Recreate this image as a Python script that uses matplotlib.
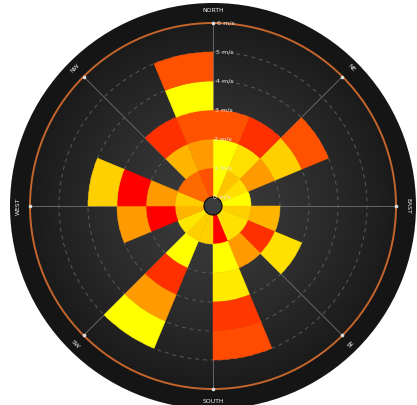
import numpy as np
import matplotlib
matplotlib.use("Agg")
import matplotlib.pyplot as plt
from matplotlib.patches import Circle

# ---- data -------------------------------------------------------------
directions = ["N", "NNE", "NE", "ENE", "E", "ESE", "SE", "SSE",
              "S", "SSW", "SW", "WSW", "W", "WNW", "NW", "NNW"]
compass_labels = ["NORTH", "NE", "EAST", "SE", "SOUTH", "SW", "WEST", "NW"]
speed_ticks = [0, 1, 2, 3, 4, 5, 6]

# stacked speed bands (m/s thickness of each band per direction)
band_0_1 = [1, 1, 1, 1, 1, 1, 1, 1, 1, 1, 1, 1, 1, 1, 1, 1]
band_1_2 = [1, 1, 1, 0, 1, 1, 1, 1, 0, 1, 0, 1, 1, 0, 1, 1]
band_2_3 = [1, 1, 1, 0, 0, 1, 0, 1, 0, 1, 0, 1, 1, 0, 1, 1]
band_3_4 = [0, 0, 1, 0, 0, 0, 0, 1, 0, 1, 0, 0, 1, 0, 0, 1]
band_4_5 = [0, 0, 0, 0, 0, 0, 0, 1, 0, 1, 0, 0, 0, 0, 0, 1]

# fill colour of every band cell
Y, Y2, G, GD, OY, O, OR, R1, R = ("#FFFF00", "#FFEA00", "#FFE000", "#FFD000",
                                  "#FFB400", "#FF9A00", "#FF5200", "#FF3000", "#FF0000")
band_colors = [
    [Y, "#FFC400", G, Y, GD, G, G, R, GD, GD, "#FFE800", OY, GD, "#FF6A00", "#FF6A00", OR],
    [Y, G, O, Y, OY, R1, O, Y, Y, Y, Y, R, O, Y, OY, O],
    [OR, R1, GD, Y, Y, G, Y, Y2, Y, R1, Y, O, R, Y, R1, OR],
    [Y, Y, OR, Y, Y, Y, Y, "#FF3800", Y, O, Y, Y, GD, Y, Y, Y],
    [Y, Y, Y, Y, Y, Y, Y, "#FF4C00", Y, Y, Y, Y, Y, Y, Y, OR],
]
bands = [band_0_1, band_1_2, band_2_3, band_3_4, band_4_5]

# ---- figure -----------------------------------------------------------
W, H = 417, 405
fig = plt.figure(figsize=(W / 100, H / 100), dpi=100)
fig.patch.set_facecolor("white")

cx, cy = 213, H - 206          # centre in pixel coords (from bottom)
r_axis = 183                   # radius of 6 m/s ring in px
r_disk = 203

# background dark disk with radial shading
bg = fig.add_axes([0, 0, 1, 1])
bg.set_xlim(0, W)
bg.set_ylim(0, H)
bg.axis("off")
yy, xx = np.mgrid[0:H, 0:W]
rr = np.hypot(xx + 0.5 - cx, yy + 0.5 - cy) / r_axis
shade = np.clip(0.235 - 0.13 * rr ** 1.3, 0.08, 1)
shade = np.where(rr > 1.0, 0.085, shade)
img = bg.imshow(np.dstack([shade] * 3), extent=(0, W, 0, H), origin="lower",
                interpolation="bilinear")
disk = Circle((cx, cy), r_disk, transform=bg.transData)
img.set_clip_path(disk)

# polar axes
rorigin = 9 / 29.0
ax = fig.add_axes([(cx - r_axis) / W, (cy - r_axis) / H,
                   2 * r_axis / W, 2 * r_axis / H], projection="polar")
ax.set_facecolor("none")
ax.set_theta_zero_location("N")
ax.set_theta_direction(-1)
ax.set_rorigin(-rorigin)
ax.set_rlim(0, 6)
ax.set_axisbelow(True)

n = len(directions)
width = 2 * np.pi / n
theta = np.arange(n) * width
bottom = np.zeros(n)
for vals, cols in zip(bands, band_colors):
    vals = np.asarray(vals, float)
    mask = vals > 0
    cols = np.asarray(cols)[mask]
    ax.bar(theta[mask], vals[mask], width=width, bottom=bottom[mask],
           align="edge", color=cols, edgecolor=cols, linewidth=0.35,
           zorder=2)
    bottom += vals

# grid: dashed speed rings and solid compass spokes
ax.set_yticks(speed_ticks[1:-1])
ax.set_yticklabels([])
ax.yaxis.grid(True, color="#5a5a5a", linestyle=(0, (4, 4)), linewidth=0.7)
ax.set_xticks(np.deg2rad(np.arange(0, 360, 45)))
ax.set_xticklabels([])
ax.xaxis.grid(True, color="#666666", linestyle="-", linewidth=0.7)
ax.tick_params(length=0)
ax.spines["polar"].set_color("#C4652C")
ax.spines["polar"].set_linewidth(1.4)

# centre hub
ax.bar(0, rorigin, width=2 * np.pi, bottom=-rorigin, color="#3b3b3b",
       linewidth=0, zorder=3)

# speed labels along the north spoke
for s in speed_ticks:
    ax.text(np.deg2rad(1.2), s, f"{s} m/s", color="#e8e8e8", fontsize=4.6,
            ha="left", va="center", zorder=5)

# compass labels outside the ring
for i, lab in enumerate(compass_labels):
    ang = i * 45
    rot = -ang
    if 90 < ang < 270:
        rot += 180
    ax.text(np.deg2rad(ang), 6.42, lab, color="#f0f0f0", fontsize=4.4,
            ha="center", va="center", rotation=rot, rotation_mode="anchor",
            clip_on=False, zorder=5)
    ax.plot([np.deg2rad(ang)], [6], marker="o", markersize=1.6,
            color="#dddddd", clip_on=False, zorder=6)

fig.savefig("out.png", dpi=100, facecolor="white")
